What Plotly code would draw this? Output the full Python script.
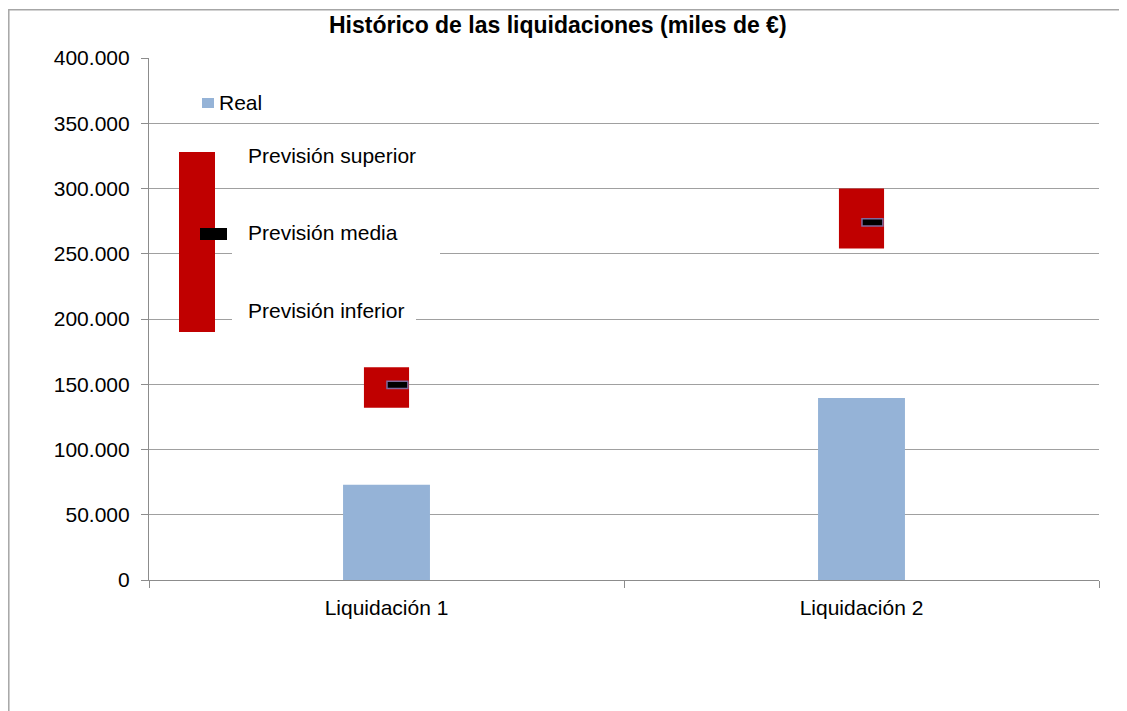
import plotly.graph_objects as go

# ---------------- data ----------------
categories = ["Liquidación 1", "Liquidación 2"]
real = [73000, 139500]
prevision_inferior = [132000, 254000]
prevision_superior = [163000, 300000]
prevision_media = [149500, 274000]

y_tick_values = [0, 50000, 100000, 150000, 200000, 250000, 300000, 350000, 400000]
y_tick_labels = ["0", "50.000", "100.000", "150.000", "200.000", "250.000",
                 "300.000", "350.000", "400.000"]

title_text = "Histórico de las liquidaciones (miles de €)"
legend_real = "Real"
legend_sup = "Previsión superior"
legend_media = "Previsión media"
legend_inf = "Previsión inferior"

# ---------------- layout helpers ----------------
W, H = 1127, 711
OFF = 8                                # page body margin in the browser
PL, PR, PT, PB = 149, 1099, 58, 580    # plot-area box in window pixels


def px(x):
    return (x - PL) / (PR - PL)


def py(y):
    return (PB - y) / (PB - PT)


FONT = "Arial, Liberation Sans, sans-serif"
GRID = "#a0a0a0"
AXIS = "#8c8c8c"
median_thickness = 5500

fig = go.Figure()

fig.add_trace(go.Bar(
    x=categories, y=real, width=0.183,
    marker=dict(color="#95B3D7", line=dict(width=0)),
    name=legend_real,
))

fig.add_trace(go.Bar(
    x=categories,
    y=[s - i for s, i in zip(prevision_superior, prevision_inferior)],
    base=prevision_inferior, width=0.095,
    marker=dict(color="#C00000", line=dict(width=0)),
    name="Previsión",
))

fig.add_trace(go.Bar(
    x=categories,
    y=[median_thickness] * len(categories),
    base=[m - median_thickness / 2 for m in prevision_media],
    width=0.044, offset=0.001,
    marker=dict(color="#000000", line=dict(color="#7F6A9E", width=1.5)),
    name=legend_media,
))

shapes = [
    # outer chart border (extends past right and bottom edges)
    dict(type="rect", xref="paper", yref="paper",
         x0=px(8.8), x1=px(1160), y0=py(740), y1=py(9.8),
         line=dict(color="#a6a6a6", width=1.5), fillcolor="rgba(0,0,0,0)",
         layer="above"),
    # white masks behind the legend labels
    dict(type="rect", xref="paper", yref="paper",
         x0=px(232), x1=px(440), y0=py(262), y1=py(214),
         line=dict(width=0), fillcolor="white", layer="above"),
    dict(type="rect", xref="paper", yref="paper",
         x0=px(232), x1=px(416), y0=py(326), y1=py(294),
         line=dict(width=0), fillcolor="white", layer="above"),
    # legend key: Real
    dict(type="rect", xref="paper", yref="paper",
         x0=px(202), x1=px(214), y0=py(108), y1=py(98),
         line=dict(width=0), fillcolor="#95B3D7", layer="above"),
    # legend key: prevision range
    dict(type="rect", xref="paper", yref="paper",
         x0=px(179), x1=px(215), y0=py(332), y1=py(152),
         line=dict(width=0), fillcolor="#C00000", layer="above"),
    # legend key: prevision media
    dict(type="rect", xref="paper", yref="paper",
         x0=px(200), x1=px(227), y0=py(240), y1=py(228),
         line=dict(width=0), fillcolor="#000000", layer="above"),
]

annotations = [
    dict(text="<b>" + title_text + "</b>", xref="paper", yref="paper",
         x=px(558), y=py(25), xanchor="center", yanchor="middle",
         showarrow=False, font=dict(family=FONT, size=23, color="black")),
    dict(text=legend_real, xref="paper", yref="paper",
         x=px(217), y=py(103), xanchor="left", yanchor="middle",
         showarrow=False, font=dict(family=FONT, size=21, color="black")),
    dict(text=legend_sup, xref="paper", yref="paper",
         x=px(246), y=py(155), xanchor="left", yanchor="middle",
         showarrow=False, font=dict(family=FONT, size=21, color="black")),
    dict(text=legend_media, xref="paper", yref="paper",
         x=px(246), y=py(232), xanchor="left", yanchor="middle",
         showarrow=False, font=dict(family=FONT, size=21, color="black")),
    dict(text=legend_inf, xref="paper", yref="paper",
         x=px(246), y=py(310), xanchor="left", yanchor="middle",
         showarrow=False, font=dict(family=FONT, size=21, color="black")),
]

fig.update_layout(
    width=W, height=H,
    margin=dict(l=PL - OFF, r=W - (PR - OFF), t=PT - OFF, b=H - (PB - OFF), pad=0),
    paper_bgcolor="white", plot_bgcolor="white",
    barmode="overlay", showlegend=False,
    font=dict(family=FONT, size=21, color="black"),
    shapes=shapes, annotations=annotations,
    xaxis=dict(
        type="category", range=[-0.5, 1.5],
        tickson="boundaries", ticks="outside", ticklen=7, tickcolor=AXIS,
        showline=True, linecolor=AXIS, linewidth=1.2, showgrid=False,
        tickfont=dict(family=FONT, size=21, color="black"),
        ticklabelstandoff=9,
    ),
    yaxis=dict(
        range=[0, 400000], tickmode="array",
        tickvals=y_tick_values, ticktext=y_tick_labels,
        ticks="outside", ticklen=7, tickcolor=AXIS,
        showline=True, linecolor=AXIS, linewidth=1.2,
        showgrid=True, gridcolor=GRID, gridwidth=1.2, zeroline=False,
        tickfont=dict(family=FONT, size=21, color="black"),
        ticklabelstandoff=7,
    ),
)

fig.write_html("out.html")
